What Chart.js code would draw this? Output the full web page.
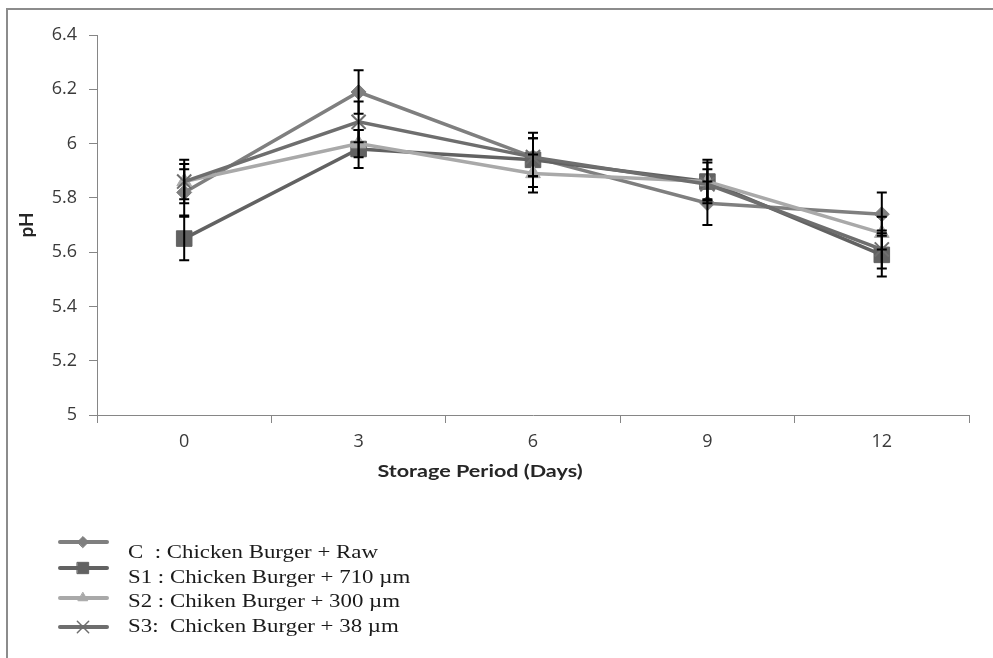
<!DOCTYPE html>
<html>
<head>
<meta charset="utf-8">
<script src="https://cdn.jsdelivr.net/npm/chart.js@4.4.1/dist/chart.umd.min.js"></script>
<style>
  html, body { margin: 0; padding: 0; background: #ffffff; }
  #wrap { position: relative; width: 993px; height: 658px; }
</style>
</head>
<body>
<div id="wrap"><canvas id="chart" width="993" height="658"></canvas></div>
<script>
// Storage days (categories)
const days = ['0', '3', '6', '9', '12'];

// Mean pH per treatment
const phC  = [5.82, 6.19, 5.95, 5.78, 5.74];
const phS1 = [5.65, 5.98, 5.94, 5.86, 5.59];
const phS2 = [5.86, 6.00, 5.89, 5.86, 5.67];
const phS3 = [5.86, 6.08, 5.95, 5.85, 5.61];

// Standard deviations (error bars)
const sdC  = [0.085, 0.08, 0.07, 0.08, 0.08];
const sdS1 = [0.08, 0.07, 0.10, 0.08, 0.08];
const sdS2 = [0.065, 0.05, 0.07, 0.07, 0.06];
const sdS3 = [0.08, 0.075, 0.07, 0.055, 0.07];

// Series names and y tick values
const seriesNames = [
  'C  : Chicken Burger + Raw',
  'S1 : Chicken Burger + 710 \u00b5m',
  'S2 : Chiken Burger + 300 \u00b5m',
  'S3:  Chicken Burger + 38 \u00b5m'
];
const yTickValues = [5, 5.2, 5.4, 5.6, 5.8, 6, 6.2, 6.4];
const xAxisTitle = 'Storage Period (Days)';
const yAxisTitle = 'pH';

const TICK_FONT = '"Open Sans", Lato, sans-serif';
const TITLE_FONT = 'Lato, "Open Sans", sans-serif';
const TEXT_STRETCH = 1.27; // horizontal widening of the annotation text

function series(label, data, errors, color, style, radius, order) {
  return {
    label, data, errors,
    borderColor: color,
    backgroundColor: color,
    pointBackgroundColor: color,
    pointBorderColor: color,
    pointBorderWidth: style === 'crossRot' ? 2 : 1,
    pointStyle: style,
    pointRadius: radius,
    pointHoverRadius: radius,
    borderWidth: 3.5,
    tension: 0,
    order
  };
}

// Outer frame of the figure
const framePlugin = {
  id: 'frame',
  beforeDraw(chart) {
    const ctx = chart.ctx;
    ctx.save();
    ctx.strokeStyle = '#8c8c8c';
    ctx.lineWidth = 2;
    ctx.beginPath();
    ctx.moveTo(7, chart.height);
    ctx.lineTo(7, 9);
    ctx.lineTo(chart.width, 9);
    ctx.stroke();
    ctx.restore();
  }
};

// Vertical error bars with caps, drawn over the markers
const errorBarPlugin = {
  id: 'errorBars',
  afterDatasetsDraw(chart) {
    const { ctx, scales: { x, y } } = chart;
    ctx.save();
    ctx.strokeStyle = '#000000';
    ctx.lineWidth = 2;
    chart.data.datasets.forEach(ds => {
      ds.data.forEach((v, j) => {
        const e = ds.errors[j];
        const px = x.getPixelForValue(j);
        const top = y.getPixelForValue(v + e);
        const bot = y.getPixelForValue(v - e);
        ctx.beginPath();
        ctx.moveTo(px, top); ctx.lineTo(px, bot);
        ctx.moveTo(px - 5, top); ctx.lineTo(px + 5, top);
        ctx.moveTo(px - 5, bot); ctx.lineTo(px + 5, bot);
        ctx.stroke();
      });
    });
    ctx.restore();
  }
};

function stretchedText(ctx, text, x, y, align) {
  ctx.save();
  ctx.translate(x, y);
  ctx.scale(TEXT_STRETCH, 1);
  ctx.textAlign = align;
  ctx.textBaseline = 'middle';
  ctx.fillText(text, 0, 0);
  ctx.restore();
}

// X axis title and the stacked legend below the plot
const annotatePlugin = {
  id: 'annotate',
  afterDraw(chart) {
    const ctx = chart.ctx;
    ctx.save();
    ctx.fillStyle = '#262626';
    ctx.font = 'bold 17px ' + TITLE_FONT;
    stretchedText(ctx, xAxisTitle, 480, 472, 'center');

    const sampleY = [542, 568, 598, 627];
    const textY = [553, 578, 602, 627];
    chart.data.datasets.forEach((ds, i) => {
      const sy = sampleY[i];
      ctx.strokeStyle = ds.borderColor;
      ctx.lineWidth = 4;
      ctx.lineCap = 'round';
      ctx.beginPath();
      ctx.moveTo(60, sy); ctx.lineTo(107, sy);
      ctx.stroke();
      ctx.fillStyle = ds.pointBackgroundColor;
      ctx.lineWidth = ds.pointStyle === 'crossRot' ? 1.5 : 1;
      Chart.helpers.drawPoint(ctx, {
        pointStyle: ds.pointStyle,
        radius: ds.pointStyle === 'rect' ? 8 : (ds.pointStyle === 'crossRot' ? 8 : 5.5),
        rotation: 0,
        borderWidth: 1
      }, 83, sy);
      ctx.fillStyle = '#1a1a1a';
      ctx.font = '18px "Liberation Serif", "Times New Roman", serif';
      stretchedText(ctx, seriesNames[i], 128, textY[i], 'left');
    });
    ctx.restore();
  }
};

new Chart(document.getElementById('chart'), {
  type: 'line',
  data: {
    labels: days,
    datasets: [
      series(seriesNames[0], phC,  sdC,  '#7f7f7f', 'rectRot',  7.5, 4),
      series(seriesNames[1], phS1, sdS1, '#626262', 'rect',     11,  3),
      series(seriesNames[2], phS2, sdS2, '#a9a9a9', 'triangle', 8.5, 2),
      series(seriesNames[3], phS3, sdS3, '#6e6e6e', 'crossRot', 10,  1)
    ]
  },
  options: {
    responsive: false,
    animation: false,
    layout: { padding: { left: 0, top: 35, right: 24, bottom: 0 } },
    plugins: {
      legend: { display: false },
      tooltip: { enabled: false }
    },
    scales: {
      x: {
        type: 'category',
        offset: true,
        grid: { offset: true, drawOnChartArea: false, drawTicks: true, tickLength: 8, color: '#868686' },
        border: { display: true, color: '#868686', width: 1 },
        ticks: { color: '#3a3a3a', font: { family: TICK_FONT, size: 18 }, padding: 8, maxRotation: 0 },
        afterFit(scale) { scale.height = 243; }
      },
      y: {
        min: 5,
        max: 6.4,
        afterBuildTicks(scale) { scale.ticks = yTickValues.map(v => ({ value: v })); },
        grid: { drawOnChartArea: false, drawTicks: true, tickLength: 8, color: '#868686' },
        border: { display: true, color: '#868686', width: 1 },
        ticks: {
          color: '#3a3a3a',
          font: { family: TICK_FONT, size: 18 },
          padding: 12,
          callback: v => String(Math.round(v * 10) / 10)
        },
        title: {
          display: true,
          text: yAxisTitle,
          color: '#262626',
          font: { family: TITLE_FONT, size: 19, weight: 'bold' },
          padding: { top: 15, bottom: 0 }
        },
        afterFit(scale) { scale.width = 97; }
      }
    }
  },
  plugins: [framePlugin, errorBarPlugin, annotatePlugin]
});
</script>
</body>
</html>
